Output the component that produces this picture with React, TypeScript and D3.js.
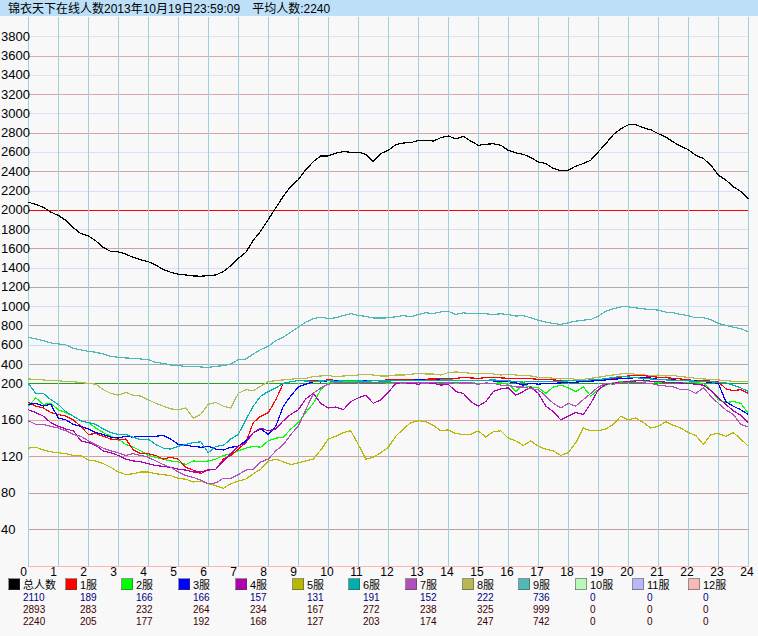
import React from 'react';
import * as d3 from 'd3';

// one reading every 15 minutes, 0:00 .. 24:00
const hours = d3.range(0, 24.001, 0.25);

const total = [
  2079, 2055, 2027, 1976, 1942, 1890, 1815, 1753, 1729, 1678, 1609, 1568,
  1564, 1540, 1506, 1482, 1461, 1427, 1379, 1352, 1331, 1324, 1314, 1311,
  1317, 1324, 1359, 1420, 1496, 1558, 1684, 1780, 1900, 2020, 2140, 2243,
  2312, 2415, 2500, 2559, 2559, 2587, 2604, 2597, 2597, 2576, 2500, 2583,
  2617, 2676, 2693, 2696, 2720, 2720, 2713, 2748, 2765, 2737, 2761, 2713,
  2669, 2679, 2686, 2669, 2617, 2590, 2576, 2542, 2497, 2480, 2429, 2405,
  2412, 2453, 2480, 2515, 2600, 2686, 2779, 2840, 2882, 2882, 2851, 2830,
  2789, 2755, 2703, 2659, 2624, 2566, 2532, 2463, 2360, 2309, 2240, 2189, 2113,
];

const s1 = [
  179, 175, 173, 168, 166, 164, 160, 153, 144, 145, 142, 139,
  138, 139, 127, 123, 123, 121, 117, 119, 117, 108, 105, 101,
  106, 106, 117, 121, 128, 135, 157, 164, 168, 182, 200, 217,
  228, 228, 224, 228, 235, 232, 230, 232, 230, 228, 232, 230,
  235, 238, 240, 242, 241, 243, 245, 244, 245, 250, 262, 255,
  252, 258, 262, 256, 252, 250, 252, 248, 241, 238, 235, 230,
  228, 226, 228, 234, 241, 246, 252, 265, 276, 280, 280, 272,
  262, 258, 252, 245, 235, 230, 228, 222, 217, 194, 192, 193, 189,
];

const s2 = [
  175, 184, 177, 178, 171, 168, 164, 159, 157, 151, 146, 142,
  139, 133, 130, 126, 121, 119, 117, 115, 114, 111, 115, 114,
  115, 117, 121, 123, 126, 129, 131, 130, 137, 140, 141, 150,
  157, 168, 178, 193, 200, 214, 217, 216, 218, 215, 212, 210,
  200, 205, 200, 208, 207, 210, 200, 205, 207, 203, 200, 205,
  200, 202, 200, 204, 199, 191, 198, 196, 195, 189, 196, 198,
  195, 191, 196, 186, 193, 198, 207, 215, 220, 232, 225, 217,
  210, 212, 207, 210, 210, 205, 200, 193, 182, 179, 180, 178, 167,
];

const s3 = [
  177, 178, 175, 177, 162, 160, 155, 153, 150, 146, 144, 141,
  140, 142, 141, 142, 142, 142, 143, 139, 133, 132, 131, 130,
  131, 128, 127, 130, 131, 137, 146, 150, 144, 153, 175, 186,
  196, 199, 217, 214, 228, 226, 230, 228, 225, 230, 228, 226,
  224, 228, 230, 232, 235, 233, 232, 235, 235, 232, 230, 228,
  228, 230, 225, 220, 217, 205, 198, 202, 199, 201, 200, 204,
  207, 212, 217, 222, 228, 235, 241, 248, 252, 258, 262, 255,
  241, 238, 235, 230, 228, 224, 217, 210, 200, 180, 175, 171, 166,
];

const s4 = [
  171, 168, 164, 157, 153, 150, 148, 137, 135, 132, 126, 124,
  121, 117, 115, 114, 112, 110, 109, 108, 106, 105, 103, 103,
  105, 106, 115, 123, 131, 135, 146, 151, 148, 150, 159, 166,
  171, 183, 189, 178, 173, 174, 171, 180, 184, 187, 178, 182,
  190, 200, 207, 200, 199, 207, 200, 198, 199, 191, 189, 180,
  175, 180, 191, 194, 195, 187, 191, 196, 189, 175, 169, 160,
  164, 168, 166, 178, 193, 199, 200, 210, 217, 224, 234, 222,
  217, 212, 207, 203, 200, 199, 198, 192, 184, 177, 170, 165, 157,
];

const s5 = [
  129, 130, 127, 125, 124, 123, 121, 121, 116, 115, 112, 108,
  103, 100, 101, 103, 103, 101, 100, 99, 96, 95, 92, 93,
  90, 88, 85, 90, 93, 95, 101, 106, 115, 117, 114, 111,
  113, 115, 117, 127, 139, 142, 146, 148, 133, 117, 119, 124,
  130, 142, 150, 157, 159, 158, 154, 148, 149, 145, 144, 144,
  148, 141, 147, 148, 140, 137, 132, 137, 131, 128, 126, 121,
  124, 135, 151, 148, 148, 150, 155, 164, 160, 162, 157, 151,
  153, 158, 154, 151, 146, 143, 133, 144, 145, 142, 146, 139, 131,
];

const s6 = [
  200, 189, 189, 182, 177, 169, 164, 159, 157, 155, 150, 146,
  144, 144, 141, 138, 139, 133, 129, 128, 131, 133, 135, 136,
  124, 131, 132, 139, 144, 160, 175, 186, 191, 195, 200, 217,
  228, 224, 221, 224, 226, 222, 225, 228, 224, 222, 226, 224,
  224, 226, 230, 228, 232, 230, 228, 234, 235, 232, 230, 226,
  228, 232, 235, 230, 225, 218, 212, 222, 220, 215, 218, 222,
  225, 228, 230, 235, 240, 248, 260, 272, 265, 258, 250, 245,
  240, 235, 232, 228, 225, 222, 218, 215, 210, 205, 198, 195, 191,
];

const s7 = [
  159, 155, 155, 153, 151, 148, 144, 142, 137, 133, 129, 126,
  124, 121, 123, 121, 119, 115, 111, 108, 103, 99, 97, 94,
  90, 91, 96, 96, 100, 105, 106, 114, 117, 126, 133, 144,
  153, 171, 189, 195, 199, 205, 207, 210, 207, 205, 210, 207,
  205, 207, 203, 207, 205, 202, 207, 205, 203, 206, 202, 204,
  199, 203, 200, 198, 198, 196, 196, 194, 193, 186, 178, 173,
  178, 175, 182, 189, 196, 200, 199, 205, 207, 210, 203, 200,
  198, 197, 196, 193, 193, 189, 195, 186, 178, 171, 166, 155, 152,
];

const s8 = [
  245, 241, 235, 228, 228, 217, 217, 207, 200, 199, 193, 189,
  187, 190, 187, 186, 182, 178, 175, 172, 171, 173, 162, 166,
  177, 179, 175, 173, 189, 193, 192, 197, 217, 228, 235, 241,
  252, 252, 269, 276, 280, 269, 276, 280, 286, 293, 286, 276,
  276, 286, 286, 293, 304, 297, 297, 286, 311, 318, 311, 304,
  297, 304, 297, 286, 293, 286, 280, 276, 262, 262, 252, 245,
  252, 241, 241, 252, 262, 276, 286, 297, 304, 293, 286, 280,
  286, 276, 280, 269, 262, 252, 245, 241, 235, 228, 221, 217, 221,
];

const s9 = [
  678, 661, 643, 619, 609, 598, 563, 546, 532, 522, 504, 480,
  470, 463, 459, 452, 445, 417, 407, 390, 383, 376, 376, 369,
  365, 376, 383, 400, 445, 452, 504, 550, 584, 643, 678, 730,
  783, 835, 870, 887, 870, 880, 904, 922, 904, 894, 877, 877,
  879, 890, 903, 890, 914, 931, 924, 941, 948, 914, 931, 924,
  924, 921, 914, 921, 914, 897, 903, 879, 855, 834, 821, 810,
  828, 845, 855, 862, 897, 948, 972, 993, 993, 983, 972, 966,
  959, 938, 931, 914, 903, 879, 879, 862, 821, 800, 783, 765, 736,
];

const legendNames = ['总人数', '1服', '2服', '3服', '4服', '5服', '6服', '7服', '8服', '9服', '10服', '11服', '12服'];
const currentVals = [2110, 189, 166, 166, 157, 131, 191, 152, 222, 736, 0, 0, 0];
const maxVals = [2893, 283, 232, 264, 234, 167, 272, 238, 325, 999, 0, 0, 0];
const avgVals = [2240, 205, 177, 192, 168, 127, 203, 174, 247, 742, 0, 0, 0];

const upperTicks = [200, 400, 600, 800, 1000, 1200, 1400, 1600, 1800, 2000, 2200, 2400, 2600, 2800, 3000, 3200, 3400, 3600, 3800];
const lowerTicks = [40, 80, 120, 160];
const hourTicks = d3.range(0, 25);

const colors = ['#000000', '#ff0000', '#00ff00', '#0000ff', '#b000b0', '#b8b800', '#00b0b0', '#b050b8', '#b8b850', '#50b8b8', '#b8f8b8', '#b8b8f8', '#f8b8b8'];

const gridColor: Record<number, string> = {
  3800: '#ecdcf4', 3600: '#e0a4b0', 3400: '#ecdcf4', 3200: '#dca4ac', 3000: '#e4dcf4',
  2800: '#d4a4ac', 2600: '#e0dcf8', 2400: '#cca4ac', 2200: '#dcdcf8', 2000: '#ff0000',
  1800: '#d8dcf8', 1600: '#c4a4ac', 1400: '#d4dcf8', 1200: '#b0a8b0', 1000: '#d0dcf8',
  800: '#a8a8b0', 600: '#c8dcf4', 400: '#a8a8b0', 200: '#20a020',
  160: '#e8a0a8', 120: '#d0a0a0', 80: '#c0a0a0', 40: '#b8a0a0',
};

const W = 758;
const H = 636;
const FONT = '"Liberation Sans", Arial, "Noto Sans CJK SC", sans-serif';
const NARROW = '"Liberation Sans Narrow", "Liberation Sans", Arial, sans-serif';

export default function App() {
  const x = d3.scaleLinear().domain([0, 24]).range([28.3, 748.3]);
  // two-part axis: 0..200 stretched in the lower band, 200..4000 above
  const y = d3.scaleLinear().domain([0, 200, 4000]).range([566, 383.3, 17]);
  const px = (v: number) => Math.round(v) + 0.5;

  const line = d3.line<number>()
    .x((_, i) => x(hours[i]))
    .y(d => y(d));

  const series = [s1, s2, s3, s4, s5, s6, s7, s8, s9];
  const drawOrder = [4, 7, 1, 0, 2, 3, 5, 6, 8];

  return (
    <div style={{ position: 'absolute', left: 0, top: 0 }}>
      <svg width={W} height={H} style={{ display: 'block' }}>
        <rect x={0} y={0} width={W} height={H} fill="#f8f8f8" />
        <rect x={0} y={0} width={W} height={16} fill="#bde0f8" />
        <text x={8} y={13} fontFamily={FONT} fontSize={12} fill="#000">
          锦衣天下在线人数2013年10月19日23:59:09{'\u3000'}平均人数:2240
        </text>

        {/* horizontal grid */}
        {[...upperTicks, ...lowerTicks].map(v => (
          <line key={'h' + v} x1={28} x2={749} y1={px(y(v))} y2={px(y(v))}
            stroke={gridColor[v]} strokeWidth={1} shapeRendering="crispEdges" />
        ))}
        <line x1={28} x2={749} y1={px(y(0))} y2={px(y(0))} stroke="#ffb4b4" shapeRendering="crispEdges" />

        {/* vertical grid */}
        {hourTicks.map(h => (
          <line key={'v' + h} x1={px(x(h))} x2={px(x(h))} y1={17} y2={y(0)}
            stroke="#a0d0d8" strokeWidth={1} shapeRendering="crispEdges" />
        ))}

        {/* y labels */}
        {[...upperTicks, ...lowerTicks].map(v => (
          <text key={'yl' + v} x={1} y={y(v) + 4.5} fontFamily={NARROW} fontSize={13} fill="#000">{v}</text>
        ))}

        {/* x labels */}
        {hourTicks.map(h => (
          <text key={'xl' + h} x={x(h) - 8} y={576} fontFamily={NARROW} fontSize={12} fill="#000">{h}</text>
        ))}

        {/* server lines */}
        {drawOrder.map(i => (
          <path key={'s' + i} d={line(series[i]) || ''} fill="none" stroke={colors[i + 1]}
            strokeWidth={1.2} shapeRendering="crispEdges" />
        ))}
        <path d={line(total) || ''} fill="none" stroke="#000" strokeWidth={1.2} shapeRendering="crispEdges" />

        {/* legend */}
        {legendNames.map((name, i) => {
          const lx = Math.round(8 + 56.7 * i);
          return (
            <g key={'lg' + i}>
              <rect x={lx} y={578} width={12} height={12} fill={colors[i]} />
              <path d={`M${lx + 0.5},${590}V${578.5}H${lx + 12}`} stroke="#909090" fill="none" />
              <path d={`M${lx + 11.5},${578.5}V${589.5}H${lx}`} stroke="#404040" fill="none" opacity={0.5} />
              <text x={lx + 15} y={589} fontFamily={FONT} fontSize={11} fill="#000">{name}</text>
              <text x={lx + 15} y={601} fontFamily={FONT} fontSize={10} fill="#000080">{currentVals[i]}</text>
              <text x={lx + 15} y={613} fontFamily={FONT} fontSize={10} fill="#400000">{maxVals[i]}</text>
              <text x={lx + 15} y={625} fontFamily={FONT} fontSize={10} fill="#400000">{avgVals[i]}</text>
            </g>
          );
        })}
      </svg>
    </div>
  );
}
